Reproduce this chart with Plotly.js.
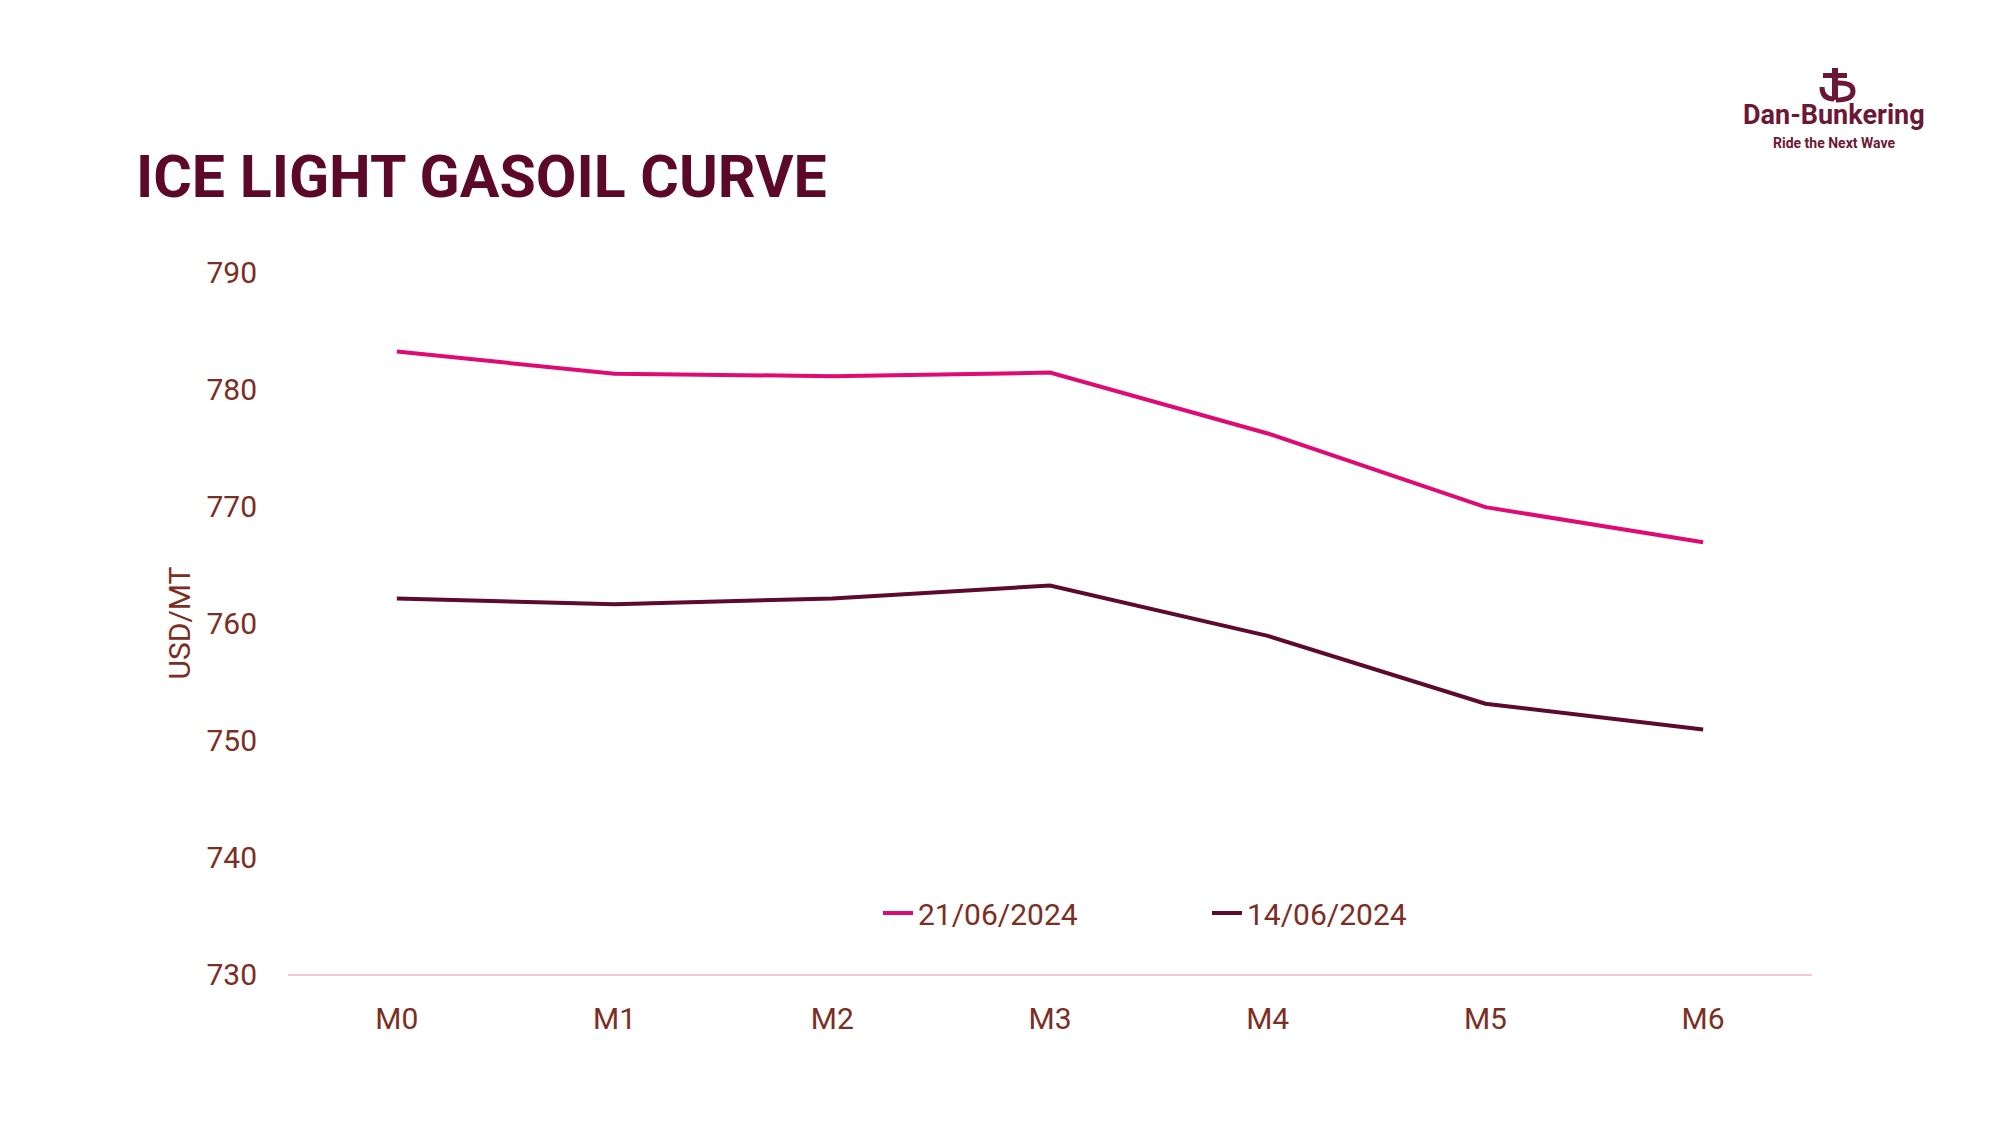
<!DOCTYPE html>
<html>
<head>
<meta charset="utf-8">
<script src="https://cdn.plot.ly/plotly-3.0.1.min.js"></script>
<style>
html, body { margin: 0; padding: 0; background: #ffffff; }
#chart { width: 2000px; height: 1125px; }
</style>
</head>
<body>
<div id="chart"></div>
<script>
// ---- data ----
const months = ['M0', 'M1', 'M2', 'M3', 'M4', 'M5', 'M6'];
const curve21 = [783.2, 781.3, 781.1, 781.4, 776.2, 769.9, 766.9];
const curve14 = [762.1, 761.6, 762.1, 763.2, 758.9, 753.1, 750.9];
const seriesNames = ['21/06/2024', '14/06/2024'];
const yTicks = [730, 740, 750, 760, 770, 780, 790];

// ---- styling ----
const W = 2000, H = 1125;
const M = { l: 288, r: 188, t: 272, b: 151 };
const PW = W - M.l - M.r, PH = H - M.t - M.b;
const textColor = '#7d2e24';
const titleColor = '#5c0829';
const pink = '#df0a73';
const maroon = '#5e0a2e';
const logoColor = '#6b1836';

// pixel -> paper helpers for the decorative logo mark
const px = x => (x - M.l) / PW;
const py = y => (H - M.b - y) / PH;
function path(cmds) {
  return cmds.map(c => {
    if (c[0] === 'Z') return 'Z';
    if (c[0] === 'Q') return 'Q ' + px(c[1]) + ',' + py(c[2]) + ' ' + px(c[3]) + ',' + py(c[4]);
    return c[0] + ' ' + px(c[1]) + ',' + py(c[2]);
  }).join(' ');
}

const traces = [
  { x: months, y: curve21, name: seriesNames[0], type: 'scatter', mode: 'lines',
    line: { color: pink, width: 4 } },
  { x: months, y: curve14, name: seriesNames[1], type: 'scatter', mode: 'lines',
    line: { color: maroon, width: 4 } }
];

const shapes = [
  { type: 'path', xref: 'paper', yref: 'paper', layer: 'above',
    path: path([['M',1832,68],['L',1838,68],['L',1838,100],['L',1832,100],['Z']]),
    fillcolor: logoColor, line: { width: 0 } },
  { type: 'path', xref: 'paper', yref: 'paper', layer: 'above',
    path: path([['M',1823,73],['L',1847,73],['L',1847,78],['L',1823,78],['Z']]),
    fillcolor: logoColor, line: { width: 0 } },
  { type: 'path', xref: 'paper', yref: 'paper', layer: 'above',
    path: path([['M',1836,83],['Q',1853,82,1853,91],['Q',1853,100,1836,100]]),
    line: { color: logoColor, width: 5 } },
  { type: 'path', xref: 'paper', yref: 'paper', layer: 'above',
    path: path([['M',1822,87],['Q',1822,99,1834,99]]),
    line: { color: logoColor, width: 5 } }
];

const layout = {
  width: W, height: H,
  margin: Object.assign({ autoexpand: false }, M),
  paper_bgcolor: '#ffffff', plot_bgcolor: '#ffffff',
  font: { family: 'Roboto, "Open Sans", sans-serif', size: 30, color: textColor },
  title: {
    text: 'ICE LIGHT GASOIL CURVE',
    font: { family: 'Roboto, sans-serif', size: 59, color: titleColor, weight: 700 },
    xref: 'container', yref: 'container',
    x: 136 / W, xanchor: 'left',
    y: 1 - 176 / H, yanchor: 'middle'
  },
  showlegend: true,
  legend: {
    orientation: 'h',
    xref: 'paper', yref: 'paper',
    x: px(878), xanchor: 'left',
    y: py(913), yanchor: 'middle',
    entrywidth: 284, entrywidthmode: 'pixels',
    font: { size: 30, color: textColor },
    bgcolor: 'rgba(0,0,0,0)'
  },
  xaxis: {
    type: 'category',
    range: [-0.5, 6.5],
    showgrid: false, zeroline: false,
    showline: true, linecolor: '#f6c6d9', linewidth: 2,
    ticks: '',
    ticklabelstandoff: 17,
    tickfont: { size: 30, color: textColor },
    automargin: false,
    fixedrange: true
  },
  yaxis: {
    range: [730, 790],
    tickvals: yTicks,
    ticktext: yTicks.map(String),
    showgrid: false, zeroline: false, showline: false,
    ticks: '',
    ticklabelstandoff: 30,
    tickfont: { size: 30, color: textColor },
    title: { text: 'USD/MT', font: { size: 30, color: textColor }, standoff: 6 },
    automargin: false,
    fixedrange: true
  },
  shapes: shapes,
  annotations: [
    { text: '<b>Dan-Bunkering</b>', xref: 'paper', yref: 'paper',
      x: px(1834), y: py(115), xanchor: 'center', yanchor: 'middle', showarrow: false,
      font: { family: 'Roboto, sans-serif', size: 27, color: logoColor } },
    { text: '<b>Ride the Next Wave</b>', xref: 'paper', yref: 'paper',
      x: px(1834), y: py(143), xanchor: 'center', yanchor: 'middle', showarrow: false,
      font: { family: 'Roboto, sans-serif', size: 14, color: logoColor } }
  ]
};

Plotly.newPlot('chart', traces, layout, { displayModeBar: false, staticPlot: true });
</script>
</body>
</html>
